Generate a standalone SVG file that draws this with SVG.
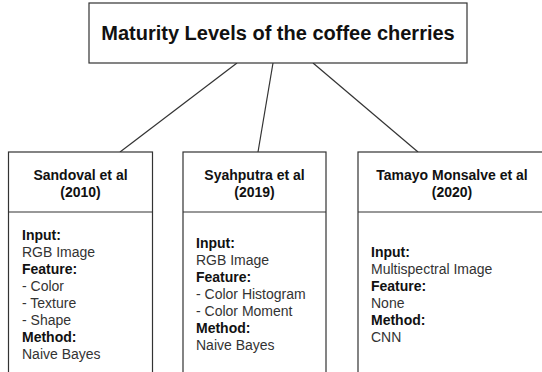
<svg xmlns="http://www.w3.org/2000/svg" width="542" height="372" viewBox="0 0 542 372">
<style>
.box{fill:#fff;stroke:#333;stroke-width:1.2}
.sep{stroke:#333;stroke-width:1.2}
.conn{stroke:#333;stroke-width:1.2;fill:none}
text{font-family:"Liberation Sans",Arial,sans-serif}
.title{font-size:20px;font-weight:bold;fill:#111;text-anchor:middle}
.hdr{font-size:14px;font-weight:bold;fill:#111;text-anchor:middle}
.b{font-size:14px;font-weight:bold;fill:#111}
.r{font-size:14px;fill:#333}
</style>
<rect width="542" height="372" fill="#fff"/>
<g id="connectors">
<line class="conn" x1="237" y1="63" x2="120" y2="152"/>
<line class="conn" x1="273" y1="63" x2="258" y2="152"/>
<line class="conn" x1="313" y1="63" x2="418" y2="152"/>
</g>
<g id="root">
<rect class="box" x="89" y="3" width="378" height="60"/>
<text class="title" x="278" y="40">Maturity Levels of the coffee cherries</text>
</g>
<g id="sandoval">
<rect class="box" x="8.5" y="152" width="144" height="240"/>
<line class="sep" x1="8.5" y1="212" x2="152.5" y2="212"/>
<text class="hdr" x="80.5" y="180">Sandoval et al</text>
<text class="hdr" x="80.5" y="197">(2010)</text>
<text class="b" x="22" y="240">Input:</text>
<text class="r" x="22" y="257">RGB Image</text>
<text class="b" x="22" y="274">Feature:</text>
<text class="r" x="22" y="291">- Color</text>
<text class="r" x="22" y="308">- Texture</text>
<text class="r" x="22" y="325">- Shape</text>
<text class="b" x="22" y="342">Method:</text>
<text class="r" x="22" y="359">Naive Bayes</text>
</g>
<g id="syahputra">
<rect class="box" x="183" y="152" width="143" height="240"/>
<line class="sep" x1="183" y1="212" x2="326" y2="212"/>
<text class="hdr" x="254.5" y="180">Syahputra et al</text>
<text class="hdr" x="254.5" y="197">(2019)</text>
<text class="b" x="196" y="248">Input:</text>
<text class="r" x="196" y="265">RGB Image</text>
<text class="b" x="196" y="282">Feature:</text>
<text class="r" x="196" y="299">- Color Histogram</text>
<text class="r" x="196" y="316">- Color Moment</text>
<text class="b" x="196" y="333">Method:</text>
<text class="r" x="196" y="350">Naive Bayes</text>
</g>
<g id="tamayo">
<rect class="box" x="358" y="152" width="190" height="240"/>
<line class="sep" x1="358" y1="212" x2="548" y2="212"/>
<text class="hdr" x="452" y="180">Tamayo Monsalve et al</text>
<text class="hdr" x="452" y="197">(2020)</text>
<text class="b" x="371" y="257">Input:</text>
<text class="r" x="371" y="274">Multispectral Image</text>
<text class="b" x="371" y="291">Feature:</text>
<text class="r" x="371" y="308">None</text>
<text class="b" x="371" y="325">Method:</text>
<text class="r" x="371" y="342">CNN</text>
</g>
</svg>
